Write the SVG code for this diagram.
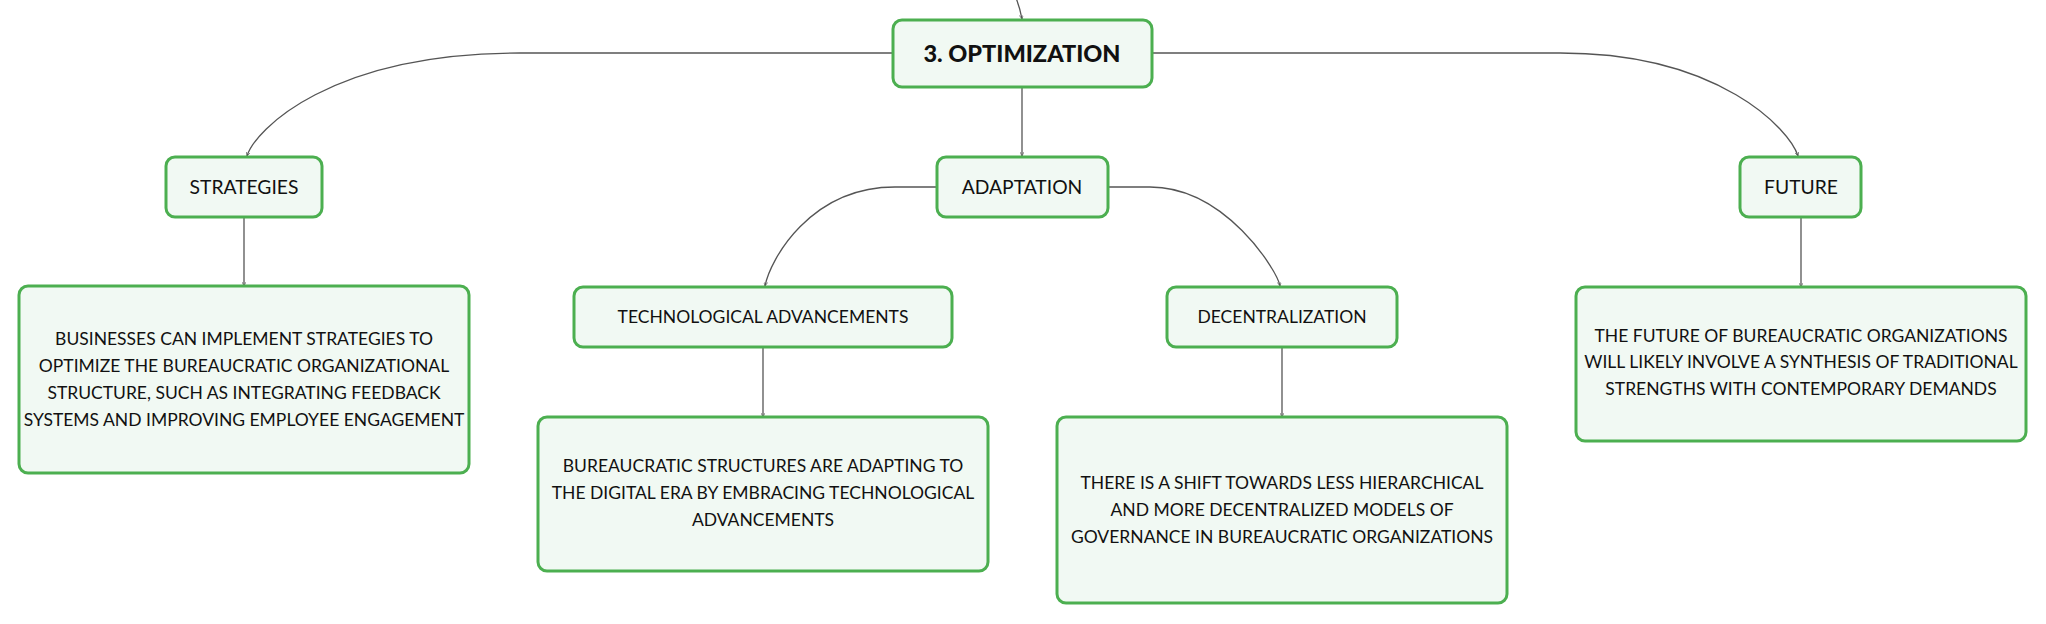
<svg xmlns="http://www.w3.org/2000/svg" width="2046" height="624" viewBox="0 0 2046 624">
<defs>
<style>
.box{fill:#f1f9f3;stroke:#4caf50;stroke-width:3}
.lbl{font-family:Lato,"Liberation Sans",sans-serif;fill:#111;text-anchor:middle}
.l1{font-size:19.3px}
.l2{font-size:17.5px}
.d{font-size:17.5px}
.root{font-size:23.5px;font-weight:900}
.con{fill:none;stroke:#555;stroke-width:1.3}
</style>
<marker id="ah" viewBox="0 0 6 6" refX="6" refY="3" markerWidth="4" markerHeight="4" orient="auto" markerUnits="userSpaceOnUse">
<path d="M0,0 L6,3 L0,6" fill="none" stroke="#555" stroke-width="1"/>
</marker>
</defs>
<rect width="2046" height="624" fill="#fff"/>
<g id="connectors">
<path class="con" d="M1016,-2 Q1020,8 1022,19" marker-end="url(#ah)"/>
<path class="con" d="M893,53 L520,53 C330,53 255,130 247,156" marker-end="url(#ah)"/>
<path class="con" d="M1152,53 L1560,53 C1720,53 1790,130 1798,156" marker-end="url(#ah)"/>
<path class="con" d="M1022,87 L1022,156" marker-end="url(#ah)"/>
<path class="con" d="M937,187 L895,187 C810,187 770,260 765,286" marker-end="url(#ah)"/>
<path class="con" d="M1108,187 L1150,187 C1225,187 1277,270 1280,286" marker-end="url(#ah)"/>
<path class="con" d="M244,217 L244,286" marker-end="url(#ah)"/>
<path class="con" d="M763,347 L763,417" marker-end="url(#ah)"/>
<path class="con" d="M1282,347 L1282,417" marker-end="url(#ah)"/>
<path class="con" d="M1801,217 L1801,287" marker-end="url(#ah)"/>
</g>
<g id="node-root">
<rect class="box" x="893" y="20" width="259" height="67" rx="9"/>
<text class="lbl root" x="1022" y="62">3. OPTIMIZATION</text>
</g>
<g id="node-strategies">
<rect class="box" x="166" y="157" width="156" height="60" rx="9"/>
<text class="lbl l1" x="244" y="194">STRATEGIES</text>
</g>
<g id="node-adaptation">
<rect class="box" x="937" y="157" width="171" height="60" rx="9"/>
<text class="lbl l1" x="1022" y="194">ADAPTATION</text>
</g>
<g id="node-future">
<rect class="box" x="1740" y="157" width="121" height="60" rx="9"/>
<text class="lbl l1" x="1801" y="194">FUTURE</text>
</g>
<g id="node-strategies-desc">
<rect class="box" x="19" y="286" width="450" height="187" rx="9"/>
<text class="lbl d" x="244" y="345">BUSINESSES CAN IMPLEMENT STRATEGIES TO</text>
<text class="lbl d" x="244" y="372">OPTIMIZE THE BUREAUCRATIC ORGANIZATIONAL</text>
<text class="lbl d" x="244" y="399">STRUCTURE, SUCH AS INTEGRATING FEEDBACK</text>
<text class="lbl d" x="244" y="426">SYSTEMS AND IMPROVING EMPLOYEE ENGAGEMENT</text>
</g>
<g id="node-tech">
<rect class="box" x="574" y="287" width="378" height="60" rx="9"/>
<text class="lbl l2" x="763" y="323">TECHNOLOGICAL ADVANCEMENTS</text>
</g>
<g id="node-tech-desc">
<rect class="box" x="538" y="417" width="450" height="154" rx="9"/>
<text class="lbl d" x="763" y="472">BUREAUCRATIC STRUCTURES ARE ADAPTING TO</text>
<text class="lbl d" x="763" y="499">THE DIGITAL ERA BY EMBRACING TECHNOLOGICAL</text>
<text class="lbl d" x="763" y="526">ADVANCEMENTS</text>
</g>
<g id="node-decentralization">
<rect class="box" x="1167" y="287" width="230" height="60" rx="9"/>
<text class="lbl l2" x="1282" y="323">DECENTRALIZATION</text>
</g>
<g id="node-decentralization-desc">
<rect class="box" x="1057" y="417" width="450" height="186" rx="9"/>
<text class="lbl d" x="1282" y="489">THERE IS A SHIFT TOWARDS LESS HIERARCHICAL</text>
<text class="lbl d" x="1282" y="516">AND MORE DECENTRALIZED MODELS OF</text>
<text class="lbl d" x="1282" y="543">GOVERNANCE IN BUREAUCRATIC ORGANIZATIONS</text>
</g>
<g id="node-future-desc">
<rect class="box" x="1576" y="287" width="450" height="154" rx="9"/>
<text class="lbl d" x="1801" y="342">THE FUTURE OF BUREAUCRATIC ORGANIZATIONS</text>
<text class="lbl d" x="1801" y="368">WILL LIKELY INVOLVE A SYNTHESIS OF TRADITIONAL</text>
<text class="lbl d" x="1801" y="395">STRENGTHS WITH CONTEMPORARY DEMANDS</text>
</g>
</svg>
